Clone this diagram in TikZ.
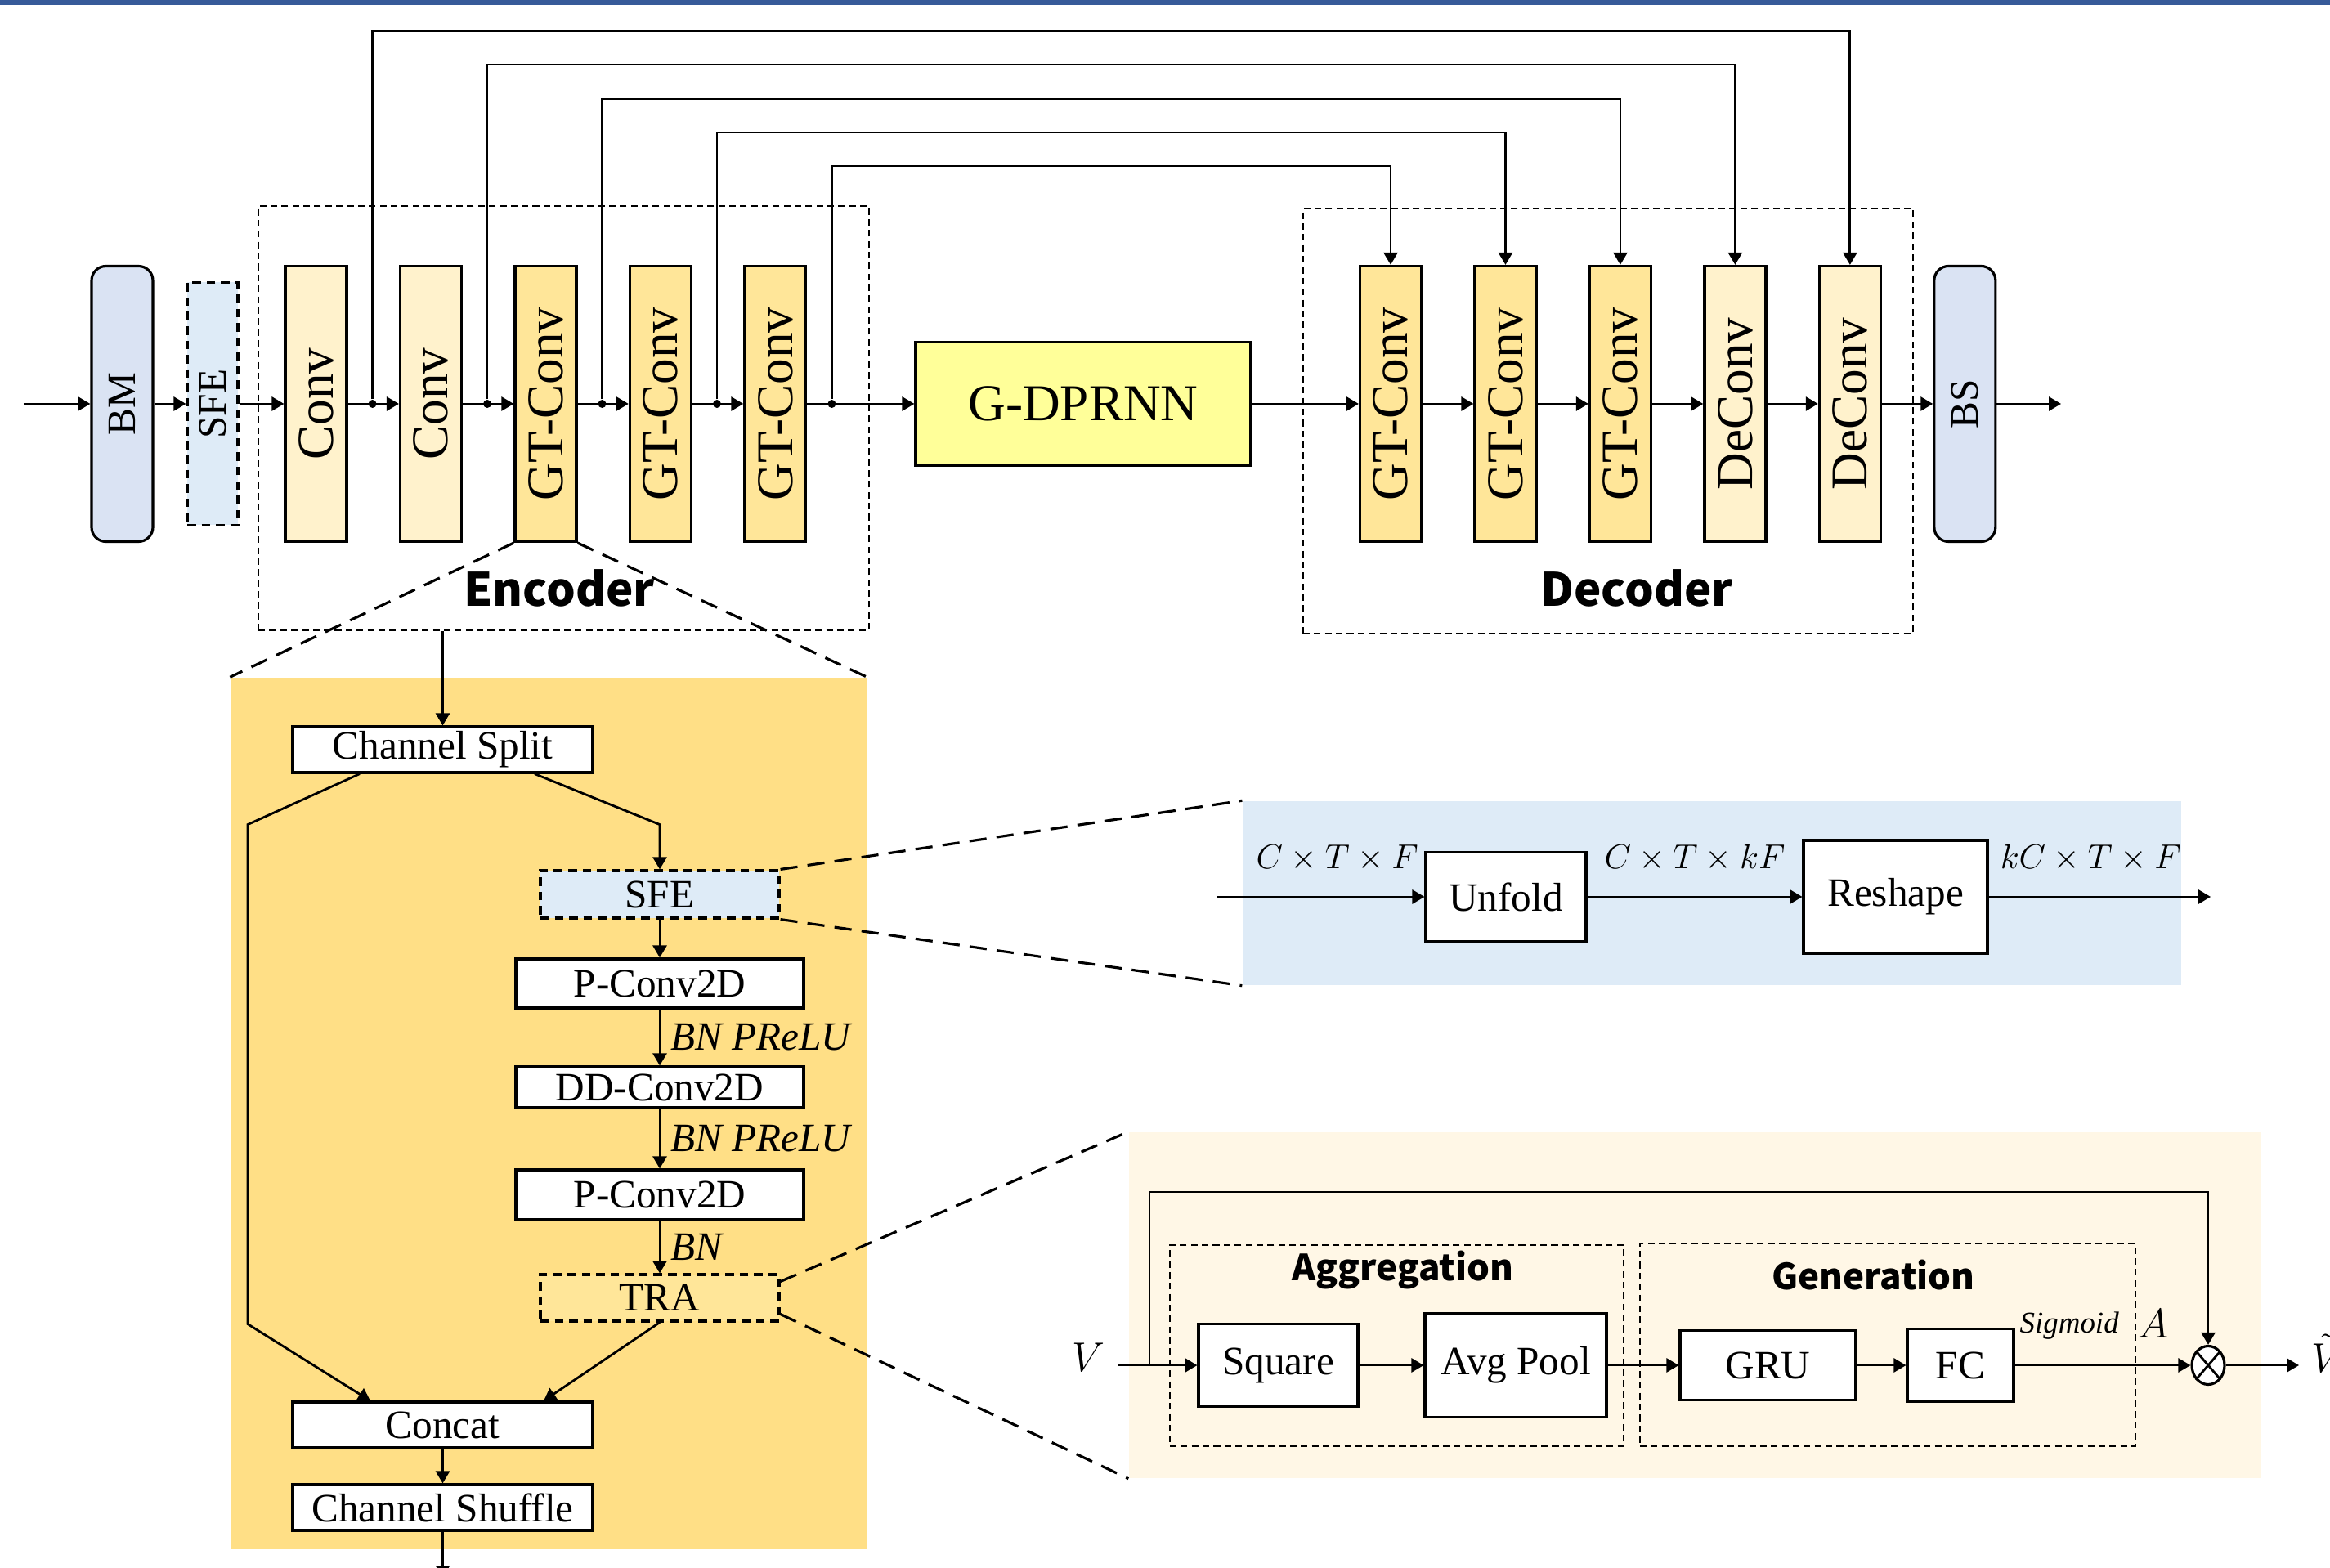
\documentclass[tikz,border=0pt]{standalone}
\usepackage{fontspec}
\setmainfont{Liberation Serif}
\newfontfamily\headfont{Noto Sans CJK SC}
\usepackage{tikz}
\usetikzlibrary{arrows.meta, positioning, calc, shapes.geometric}
\usepackage{xcolor}
\definecolor{barblue}{HTML}{375A99}
\definecolor{convyellow}{HTML}{FFF2CC}
\definecolor{gtyellow}{HTML}{FFE699}
\definecolor{rnnyellow}{HTML}{FFFF99}
\definecolor{endblue}{HTML}{DAE3F3}
\definecolor{sfeblue}{HTML}{DEEBF7}
\definecolor{panelyellow}{HTML}{FFDF86}
\definecolor{panelcream}{HTML}{FFF7E6}
\newcommand{\vtxt}[1]{\rotatebox{90}{#1}}

\begin{document}
\begin{tikzpicture}[
    node distance=0.623cm,
    arrow/.style={-{Triangle[length=1.5mm, width=1.7mm]}, line width=0.8pt},
    vbox/.style={rectangle, draw, line width=0.9pt, minimum width=0.75cm, minimum height=3.37cm, inner sep=0pt, font=\fontsize{18}{20}\selectfont},
    conv/.style={vbox, fill=convyellow},
    gtconv/.style={vbox, fill=gtyellow},
    endbox/.style={vbox, rounded corners=5pt, fill=endblue, font=\fontsize{14}{16}\selectfont},
    group/.style={draw, dash pattern=on 2.3pt off 1.5pt, line width=0.5pt, inner sep=0pt},
    zoomline/.style={dash pattern=on 6pt off 3.5pt, line width=0.9pt},
    wbox/.style={rectangle, draw, fill=white, line width=0.9pt, inner sep=0pt, font=\fontsize{14}{16}\selectfont},
    dbox/.style={wbox, dash pattern=on 3pt off 2pt},
    panel/.style={rectangle, inner sep=0pt},
    lbl/.style={font=\fontsize{14}{16}\selectfont\itshape},
    mathlbl/.style={font=\fontsize{14}{16}\selectfont, inner sep=0pt},
    dimlbl/.style={font=\fontsize{12}{14}\selectfont, inner sep=0pt},
    dot/.style={circle, fill, inner sep=0pt, minimum size=0.1cm},
    head/.style={font=\headfont\bfseries\fontsize{16}{18}\selectfont},
    subhead/.style={font=\headfont\bfseries\fontsize{12.5}{14}\selectfont}
]
\useasboundingbox (0,0) rectangle (28.5,-19.18);
\fill[barblue] (0,0) rectangle (28.5,-0.06);

% encoder, bottleneck, decoder
\node[group, minimum width=7.47cm, minimum height=5.19cm] (enc) at (6.895,-5.115) {};
\node[group, minimum width=7.46cm, minimum height=5.2cm] (dec) at (19.67,-5.15) {};
\node[head] (enclbl) at (6.84,-7.19) {Encoder};
\node[head] (declbl) at (20.02,-7.19) {Decoder};

\coordinate (src) at (0.29,-4.94);
\node[endbox] (bm) at (1.495,-4.94) {\vtxt{BM}};
\node[vbox, fill=sfeblue, dash pattern=on 3pt off 2pt, minimum width=0.62cm, minimum height=2.97cm, font=\fontsize{14}{16}\selectfont] (sfe) at (2.6,-4.94) {\vtxt{SFE}};
\node[conv] (e1) at (3.865,-4.94) {\vtxt{Conv}};
\node[conv, right=of e1] (e2) {\vtxt{Conv}};
\node[gtconv, right=of e2] (e3) {\vtxt{GT-Conv}};
\node[gtconv, right=of e3] (e4) {\vtxt{GT-Conv}};
\node[gtconv, right=of e4] (e5) {\vtxt{GT-Conv}};
\node[rectangle, draw, line width=0.9pt, fill=rnnyellow, minimum width=4.1cm, minimum height=1.51cm, font=\fontsize{18}{20}\selectfont] (rnn) at (13.25,-4.94) {G-DPRNN};
\node[gtconv] (d1) at (17.01,-4.94) {\vtxt{GT-Conv}};
\node[gtconv, right=of d1] (d2) {\vtxt{GT-Conv}};
\node[gtconv, right=of d2] (d3) {\vtxt{GT-Conv}};
\node[conv, right=of d3] (d4) {\vtxt{DeConv}};
\node[conv, right=of d4] (d5) {\vtxt{DeConv}};
\node[endbox, right=of d5] (bs) {\vtxt{BS}};
\coordinate (dst) at (25.21,-4.94);

\foreach \a/\b in {src/bm, bm/sfe, sfe/e1, e1/e2, e2/e3, e3/e4, e4/e5, e5/rnn, rnn/d1, d1/d2, d2/d3, d3/d4, d4/d5, d5/bs, bs/dst}
    \draw[arrow] (\a) -- (\b);

\foreach \i in {1,...,5}
    \node[dot] (s\i) at ($(e\i.east)+(0.3,0)$) {};
\foreach \s/\d/\h in {1/5/4.56, 2/4/4.15, 3/3/3.73, 4/2/3.32, 5/1/2.91}
    \draw[arrow] (s\s) -- ++(0,\h) -| (d\d.north);

% GT-Conv block
\node[panel, fill=panelyellow, minimum width=7.78cm, minimum height=10.66cm] (gtpanel) at (6.71,-13.62) {};
\draw[zoomline] (e3.south west) -- (gtpanel.north west);
\draw[zoomline] (e3.south east) -- (gtpanel.north east);

\node[wbox, minimum width=3.67cm, minimum height=0.56cm] (split) at (5.415,-9.17) {Channel Split};
\node[dbox, fill=sfeblue, minimum width=2.92cm, minimum height=0.58cm] (sfe2) at (8.07,-10.94) {SFE};
\node[wbox, minimum width=3.52cm, minimum height=0.6cm] (pc1) at (8.07,-12.03) {P-Conv2D};
\node[wbox, minimum width=3.52cm, minimum height=0.5cm] (dd) at (8.07,-13.3) {DD-Conv2D};
\node[wbox, minimum width=3.52cm, minimum height=0.61cm] (pc2) at (8.07,-14.615) {P-Conv2D};
\node[dbox, fill=gtyellow, minimum width=2.92cm, minimum height=0.57cm] (tra) at (8.07,-15.875) {TRA};
\node[wbox, minimum width=3.67cm, minimum height=0.56cm] (concat) at (5.415,-17.43) {Concat};
\node[wbox, minimum width=3.67cm, minimum height=0.56cm] (shuffle) at (5.415,-18.44) {Channel Shuffle};
\coordinate (gtout) at (5.415,-19.3);

\draw[arrow] (split.north |- enc.south) -- (split);
\draw[arrow] ([xshift=-1.015cm]split.south) -- ++(-1.37,-0.62) -- ++(0,-6.11) -- ([xshift=-0.885cm]concat.north);
\draw[arrow] ([xshift=1.125cm]split.south) -- ++(1.53,-0.62) -- (sfe2.north);
\draw[arrow] (sfe2) -- (pc1);
\draw[arrow] (pc1) -- node[right, lbl] {BN PReLU} (dd);
\draw[arrow] (dd) -- node[right, lbl] {BN PReLU} (pc2);
\draw[arrow] (pc2) -- node[right, lbl] {BN} (tra);
\draw[arrow] (tra.south) -- ([xshift=1.235cm]concat.north);
\draw[arrow] (concat) -- (shuffle);
\draw[arrow] (shuffle) -- (gtout);

% SFE
\node[panel, fill=sfeblue, minimum width=11.48cm, minimum height=2.25cm] (sfepanel) at (20.94,-10.925) {};
\draw[zoomline] (sfe2.north east) -- (sfepanel.north west);
\draw[zoomline] (sfe2.south east) -- (sfepanel.south west);
\coordinate (sfein) at (14.89,-10.97);
\node[wbox, minimum width=1.96cm, minimum height=1.09cm] (unfold) at (18.42,-10.97) {Unfold};
\node[wbox, minimum width=2.25cm, minimum height=1.38cm] (reshape) at (23.185,-10.97) {Reshape};
\coordinate (sfeout) at (27.04,-10.97);
\draw[arrow] (sfein) -- node[dimlbl, above=0.3cm, xshift=0.2cm] {$C\times T\times F$} (unfold);
\draw[arrow] (unfold) -- node[dimlbl, above=0.3cm] {$C\times T\times kF$} (reshape);
\draw[arrow] (reshape) -- node[dimlbl, above=0.3cm, xshift=-0.11cm] {$kC\times T\times F$} (sfeout);

% TRA
\node[panel, fill=panelcream, minimum width=13.85cm, minimum height=4.23cm] (trapanel) at (20.735,-15.965) {};
\draw[zoomline] ([yshift=0.2cm]tra.east) -- (trapanel.north west);
\draw[zoomline] ([yshift=-0.2cm]tra.east) -- (trapanel.south west);
\node[group, minimum width=5.55cm, minimum height=2.46cm] (agg) at (17.085,-16.46) {};
\node[group, minimum width=6.06cm, minimum height=2.48cm] (gen) at (23.09,-16.45) {};
\node[subhead] (agglbl) at (17.16,-15.53) {Aggregation};
\node[subhead] (genlbl) at (22.915,-15.6) {Generation};

\node[mathlbl, font=\fontsize{15}{17}\selectfont] (vlbl) at (13.31,-16.6) {$V$};
\coordinate (vin) at (13.67,-16.7);
\coordinate (vsplit) at (14.06,-16.7);
\node[wbox, minimum width=1.95cm, minimum height=1.01cm] (square) at (15.635,-16.7) {Square};
\node[wbox, minimum width=2.22cm, minimum height=1.27cm] (pool) at (18.54,-16.7) {Avg Pool};
\node[wbox, minimum width=2.15cm, minimum height=0.85cm] (gru) at (21.625,-16.7) {GRU};
\node[wbox, minimum width=1.3cm, minimum height=0.89cm] (fc) at (23.98,-16.7) {FC};
\node[ellipse, draw, line width=0.9pt, fill=white, minimum width=0.4cm, minimum height=0.47cm, inner sep=0pt] (mul) at (27.01,-16.7) {};
\draw[line width=0.8pt] (mul.north west) -- (mul.south east) (mul.north east) -- (mul.south west);
\coordinate (vout) at (28.12,-16.7);
\node[mathlbl, font=\fontsize{15}{17}\selectfont, anchor=west] (vtilde) at (28.27,-16.55) {$\tilde{V}$};

\draw[arrow] (vin) -- (square);
\draw[arrow] (vsplit) -- ++(0,2.12) -| (mul.north);
\draw[arrow] (square) -- (pool);
\draw[arrow] (pool) -- (gru);
\draw[arrow] (gru) -- (fc);
\draw[arrow] (fc) -- node[pos=0.31, above=0.3cm, inner sep=0pt, font=\fontsize{10.5}{12}\selectfont\itshape] {Sigmoid}
    node[pos=0.79, mathlbl, above=0.32cm, font=\fontsize{15}{17}\selectfont] {$A$} (mul);
\draw[arrow] (mul) -- (vout);
\end{tikzpicture}
\end{document}
